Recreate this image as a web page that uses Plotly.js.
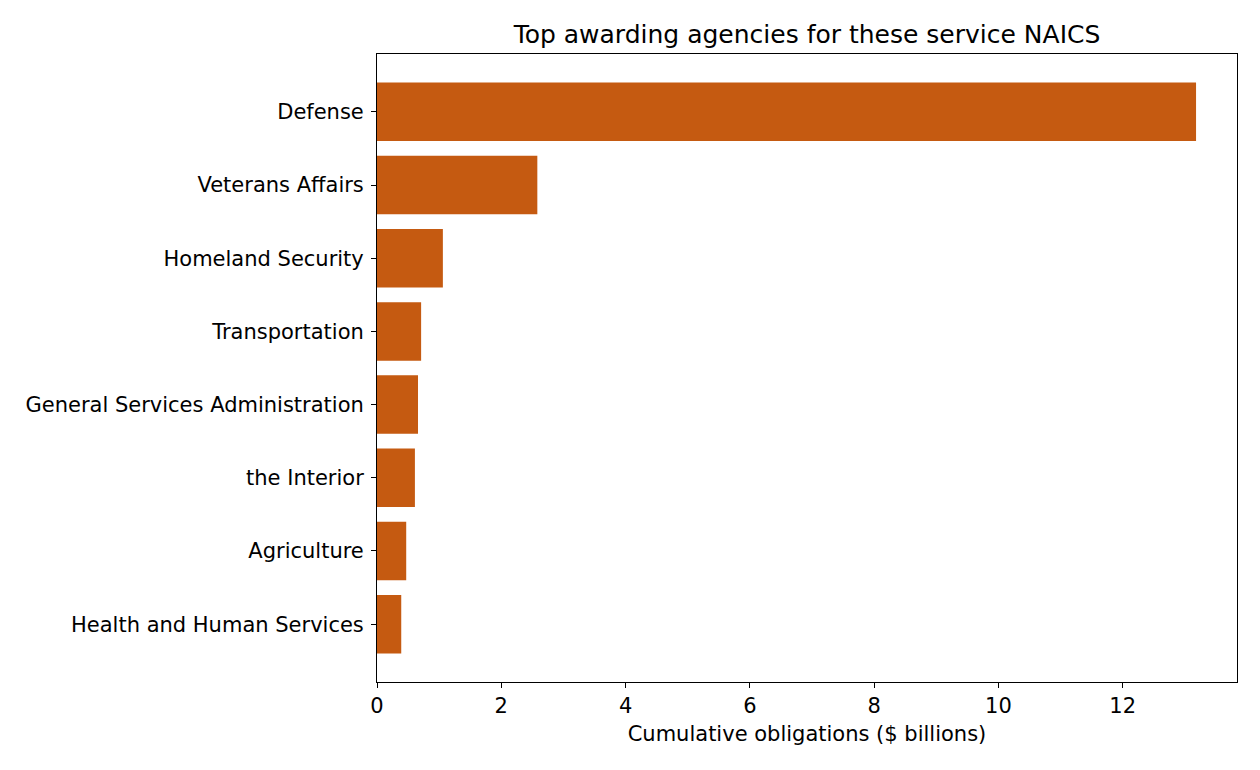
<!DOCTYPE html>
<html>
<head>
<meta charset="utf-8">
<script src="https://cdn.plot.ly/plotly-3.0.1.min.js"></script>
<style>
  body { margin: 0; background: #fff; }
  #chart { width: 1260px; height: 770px; }
</style>
</head>
<body>
<div id="chart"></div>
<script>
// agencies, top to bottom
const agencies = [
  'Defense',
  'Veterans Affairs',
  'Homeland Security',
  'Transportation',
  'General Services Administration',
  'the Interior',
  'Agriculture',
  'Health and Human Services'
];
// $ billions
const obligations = [13.18, 2.58, 1.06, 0.71, 0.66, 0.61, 0.47, 0.39];
const xTicks = [0, 2, 4, 6, 8, 10, 12];

const barColor = '#c55a11';
const fontFam = 'DejaVu Sans, sans-serif';

let bars = {
  type: 'bar',
  orientation: 'h',
  x: obligations,
  y: agencies,
  width: 0.8,
  marker: { color: barColor, line: { width: 0 } },
  hoverinfo: 'x+y'
};

let xmax = Math.max(...obligations) * 1.05;
let n = agencies.length;
let pad = (n - 0.2) * 0.05;

let layout = {
  width: 1260,
  height: 770,
  margin: { l: 377, r: 23, t: 54, b: 88 },
  paper_bgcolor: '#fff',
  plot_bgcolor: '#fff',
  showlegend: false,
  font: { family: fontFam, size: 21, color: '#000' },
  title: {
    text: 'Top awarding agencies for these service NAICS',
    font: { family: fontFam, size: 25, color: '#000' },
    x: 0.5, xref: 'paper', xanchor: 'center',
    y: 1, yref: 'paper', yanchor: 'bottom', pad: { b: 11 }
  },
  xaxis: {
    range: [0, xmax],
    tickvals: xTicks,
    ticktext: xTicks.map(String),
    ticks: 'outside', ticklen: 5, tickwidth: 1, tickcolor: '#000',
    showline: true, linecolor: '#000', linewidth: 1, mirror: true,
    showgrid: false, zeroline: false,
    tickfont: { family: fontFam, size: 21, color: '#000' },
    title: { text: 'Cumulative obligations ($ billions)', font: { family: fontFam, size: 21, color: '#000' }, standoff: 9 }
  },
  yaxis: {
    type: 'category',
    categoryorder: 'array',
    categoryarray: agencies,
    range: [n - 1 + 0.4 + pad, -0.4 - pad],
    ticks: 'outside', ticklen: 5, tickwidth: 1, tickcolor: '#000',
    ticklabelstandoff: 3,
    showline: true, linecolor: '#000', linewidth: 1, mirror: true,
    showgrid: false, zeroline: false,
    tickfont: { family: fontFam, size: 21, color: '#000' }
  }
};

Plotly.newPlot('chart', [bars], layout, { displayModeBar: false, staticPlot: true });
</script>
</body>
</html>
